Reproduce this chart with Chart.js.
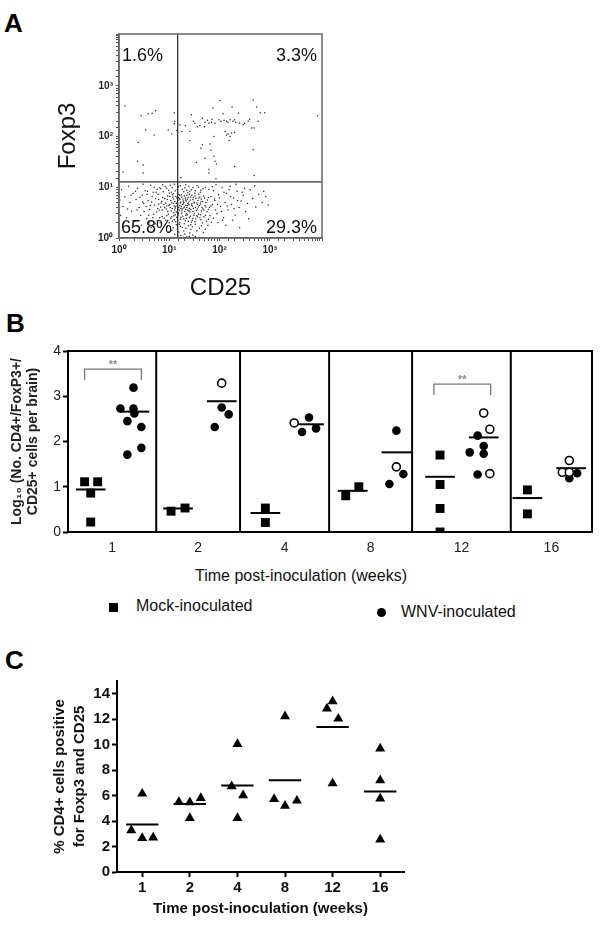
<!DOCTYPE html>
<html>
<head>
<meta charset="utf-8">
<script src="https://cdn.jsdelivr.net/npm/chart.js@4.4.1/dist/chart.umd.min.js"></script>
<style>
  body { margin: 0; background: #fff; font-family: "Liberation Sans", Arial, sans-serif; color: #000; }
  #page { position: relative; width: 600px; height: 938px; overflow: hidden; background: #fff; }
  canvas, .txt { position: absolute; }
  .letter { font-weight: bold; font-size: 26px; line-height: 26px; }
  .plain { font-size: 16px; line-height: 18px; color: #111; white-space: nowrap; }
  .sq { position: absolute; width: 9px; height: 9px; background: #000; }
  .dot { position: absolute; width: 9px; height: 9px; background: #000; border-radius: 50%; }
</style>
</head>
<body>
<div id="page">
  <div class="txt letter" style="left:4px;top:10px">A</div>
  <div class="txt letter" style="left:6px;top:310px">B</div>
  <div class="txt letter" style="left:5px;top:647px">C</div>

  <canvas id="chartA" width="340" height="310" style="left:0;top:0"></canvas>
  <canvas id="chartB" width="600" height="220" style="left:0;top:340px"></canvas>

  <div class="txt plain" style="left:151px;top:567px;width:300px;text-align:center">Time post-inoculation (weeks)</div>
  <div class="sq" style="left:109px;top:603px"></div>
  <div class="txt plain" style="left:136px;top:597px">Mock-inoculated</div>
  <div class="dot" style="left:377px;top:608px"></div>
  <div class="txt plain" style="left:401px;top:603px">WNV-inoculated</div>

  <canvas id="chartC" width="420" height="290" style="left:0;top:640px"></canvas>
</div>
<script>
// ---------- Panel A: flow plot, values are log10 of intensity [CD25, Foxp3] ----------
const gateCD25 = 14.7;
const gateFoxp3 = 12.8;
const quadrantPercents = ['1.6%', '3.3%', '65.8%', '29.3%']; // upper left, upper right, lower left, lower right
const dotsUpper = [
  [0.44,2.41],[0.58,2.45],[0.66,2.46],[0.73,2.51],[1.10,2.47],[0.53,2.13],[0.70,2.03],[0.98,2.13],[1.05,2.05],
  [0.38,1.88],[0.48,1.44],[0.37,1.51],[1.11,2.30],[1.10,2.25],[0.12,2.60],[0.08,1.30],[0.48,1.28],
  [1.21,2.23],[1.25,2.10],[1.32,2.21],[1.41,2.10],[1.44,2.43],[1.48,2.30],[1.51,2.26],[1.56,2.19],[1.61,2.21],
  [1.66,2.36],[1.70,2.19],[1.71,2.28],[1.76,2.32],[1.79,2.26],[1.84,2.28],[1.87,2.56],[1.85,2.34],[1.91,2.26],
  [1.99,2.33],[2.01,2.71],[2.03,2.30],[2.07,2.45],[2.09,2.32],[2.14,2.30],[2.17,2.28],[2.21,2.33],[2.25,2.58],
  [2.27,2.30],[2.30,2.33],[2.32,2.28],[2.38,2.46],[2.40,2.26],[2.47,2.23],[2.50,2.26],[2.57,2.30],[2.60,2.34],
  [2.64,2.17],[2.67,2.72],[2.69,2.17],[2.74,2.58],[2.77,2.30],[2.81,2.47],[2.90,2.47],[3.95,2.41],
  [1.89,2.00],[2.11,2.10],[2.14,2.03],[2.17,2.05],[2.21,2.00],[2.24,2.07],[2.30,2.08],[2.19,1.92],[1.66,1.84],
  [1.63,1.77],[1.81,1.85],[1.83,1.73],[1.71,1.57],[1.89,1.61],[1.91,1.51],[1.94,1.46],[1.54,1.49],[1.79,1.35],
  [1.79,1.28],[2.30,1.41],[2.67,1.74],[2.69,1.23],[1.41,1.92],[1.15,2.12],[1.23,1.19],[1.93,1.17]
];
const dotsLower = [
  [0.95,0.98],[1.02,1.04],[1.12,0.93],[1.18,1.01],[1.26,0.96],[1.33,1.05],[1.41,0.92],[1.47,0.99],[1.55,1.03],
  [1.63,0.94],[1.72,1.00],[0.88,0.91],[1.08,0.87],[1.37,0.89],[1.59,0.86],[1.21,0.84],
  [0.91,0.78],[0.97,0.83],[1.03,0.74],[1.07,0.81],[1.11,0.72],[1.15,0.79],[1.19,0.86],[1.23,0.71],[1.27,0.77],
  [1.30,0.83],[1.34,0.73],[1.38,0.80],[1.42,0.75],[1.45,0.84],[1.49,0.71],[1.53,0.78],[1.57,0.74],[1.61,0.81],
  [1.66,0.72],[1.70,0.79],[1.76,0.75],[1.83,0.82],[0.85,0.72],[1.00,0.88],[1.17,0.74],[1.29,0.70],[1.40,0.86],
  [1.51,0.88],[1.64,0.77],[1.13,0.82],[1.25,0.81],[1.36,0.77],
  [0.83,0.61],[0.89,0.66],[0.94,0.57],[0.99,0.64],[1.04,0.53],[1.08,0.68],[1.12,0.59],[1.16,0.65],[1.20,0.55],
  [1.24,0.62],[1.28,0.67],[1.31,0.52],[1.35,0.60],[1.39,0.66],[1.43,0.56],[1.46,0.63],[1.50,0.69],[1.54,0.54],
  [1.58,0.61],[1.62,0.67],[1.67,0.57],[1.71,0.64],[1.75,0.52],[1.80,0.60],[1.86,0.66],[1.92,0.55],[1.02,0.60],
  [1.14,0.51],[1.22,0.69],[1.33,0.64],[1.41,0.51],[1.48,0.58],[1.56,0.66],[1.64,0.53],[1.26,0.57],[1.37,0.55],
  [1.10,0.63],[1.19,0.60],[1.45,0.68],[1.30,0.61],
  [0.86,0.42],[0.93,0.35],[0.98,0.47],[1.03,0.39],[1.09,0.44],[1.13,0.32],[1.18,0.48],[1.22,0.37],[1.27,0.43],
  [1.32,0.34],[1.36,0.46],[1.40,0.40],[1.44,0.31],[1.49,0.45],[1.53,0.38],[1.58,0.47],[1.63,0.36],[1.69,0.42],
  [1.74,0.33],[1.81,0.44],[1.88,0.39],[1.15,0.41],[1.25,0.49],[1.34,0.39],[1.46,0.35],[1.56,0.42],[1.21,0.30],
  [1.06,0.33],
  [0.96,0.22],[1.05,0.15],[1.14,0.26],[1.19,0.12],[1.26,0.21],[1.31,0.08],[1.38,0.24],[1.43,0.17],[1.52,0.27],
  [1.60,0.19],[1.68,0.11],[1.77,0.25],[1.23,0.05],[1.35,0.02],[1.47,0.06],[1.11,0.07],
  [0.92,1.01],[0.99,0.94],[1.06,0.99],[1.10,1.06],[1.16,0.95],[1.22,1.03],[1.29,0.91],[1.31,0.99],[1.39,1.02],
  [1.44,0.95],[1.52,0.93],[1.58,1.00],[1.67,0.97],[1.79,0.96],[1.86,1.01],[0.81,0.99],[0.87,1.05],[1.04,0.90],
  [1.35,0.94],[1.62,0.90],
  [0.87,0.80],[0.93,0.69],[0.96,0.76],[1.01,0.82],[1.05,0.70],[1.09,0.77],[1.14,0.68],[1.18,0.80],[1.21,0.76],
  [1.24,0.85],[1.28,0.73],[1.32,0.79],[1.35,0.84],[1.39,0.71],[1.43,0.81],[1.47,0.76],[1.51,0.83],[1.55,0.69],
  [1.59,0.79],[1.63,0.71],[1.68,0.83],[1.73,0.70],[1.78,0.80],[1.90,0.77],[0.79,0.67],[1.06,0.85],[1.16,0.71],
  [1.26,0.66],[1.37,0.68],[1.48,0.80],[1.20,0.78],[1.33,0.75],
  [0.86,0.55],[0.91,0.60],[0.97,0.52],[1.01,0.66],[1.06,0.58],[1.09,0.50],[1.13,0.62],[1.17,0.56],[1.21,0.64],
  [1.25,0.53],[1.29,0.59],[1.33,0.56],[1.36,0.64],[1.40,0.58],[1.44,0.65],[1.47,0.52],[1.52,0.60],[1.56,0.57],
  [1.60,0.64],[1.65,0.60],[1.69,0.55],[1.73,0.61],[1.78,0.56],[1.83,0.63],[0.95,0.63],[1.18,0.50],[1.34,0.48],
  [1.50,0.49],[1.62,0.46],[1.23,0.58],[1.39,0.53],[1.11,0.55],
  [0.90,0.39],[0.95,0.44],[1.00,0.30],[1.05,0.42],[1.10,0.36],[1.17,0.44],[1.23,0.41],[1.29,0.38],[1.33,0.45],
  [1.38,0.33],[1.42,0.43],[1.47,0.39],[1.51,0.32],[1.55,0.44],[1.61,0.40],[1.66,0.30],[1.72,0.45],[1.78,0.37],
  [1.84,0.31],[1.20,0.27],[1.30,0.28],[1.43,0.26],[1.12,0.46],
  [0.99,0.12],[1.08,0.20],[1.16,0.17],[1.22,0.23],[1.29,0.14],[1.33,0.19],[1.41,0.10],[1.46,0.22],[1.55,0.14],
  [1.64,0.24],[1.72,0.17],[1.17,0.04],[1.40,0.03],[1.29,0.01],[1.52,0.03],
  [0.05,0.95],[0.08,0.62],[0.12,0.81],[0.15,0.40],[0.19,1.02],[0.22,0.70],[0.25,0.53],[0.28,0.88],[0.31,0.33],
  [0.34,0.76],[0.37,0.98],[0.40,0.60],[0.43,0.45],[0.46,0.84],[0.49,0.68],[0.52,0.93],[0.55,0.38],[0.58,0.74],
  [0.61,0.56],[0.63,1.04],[0.66,0.82],[0.69,0.47],[0.71,0.65],[0.74,0.90],[0.77,0.58],[0.79,0.76],[0.81,0.40],
  [0.83,0.97],[0.10,0.30],[0.27,0.20],[0.45,0.25],[0.60,0.30],[0.72,0.28],[0.36,0.55],[0.54,0.62],[0.65,0.71],
  [0.78,0.86],[0.70,1.00],[0.48,1.06],[0.17,0.57],[0.02,0.75],[0.03,0.45],[0.57,0.92],[0.75,0.51],[0.84,0.69],
  [0.42,0.80],[0.50,0.52],[0.56,0.86],[0.62,0.64],[0.67,0.40],[0.73,0.78],[0.76,0.96],[0.80,0.55],[0.68,0.90],
  [0.59,0.45],[0.47,0.71],[0.64,0.20],[0.82,0.30],[0.33,0.92],[0.24,0.84],[0.76,0.34],
  [1.88,0.93],[1.91,0.74],[1.95,0.48],[1.98,0.85],[2.02,0.62],[2.05,0.99],[2.08,0.40],[2.11,0.70],[2.14,0.88],
  [2.17,0.55],[2.21,1.02],[2.24,0.66],[2.28,0.79],[2.31,0.45],[2.35,0.92],[2.39,0.60],[2.43,0.73],[2.47,0.84],
  [2.52,0.52],[2.56,0.68],[2.61,0.95],[2.66,0.78],[2.72,0.61],[2.78,0.86],[2.85,0.70],[2.92,0.82],[2.97,0.65],
  [1.97,0.30],[2.13,0.25],[2.26,0.35],[2.40,0.20],[2.58,0.38],[1.93,1.05],[2.19,0.95],[2.33,1.06],[2.50,0.98],
  [2.70,1.03],[2.88,0.92],
  [1.96,0.66],[2.00,0.79],[2.04,0.52],[2.09,0.90],[2.15,0.63],[2.22,0.82],[2.29,0.58],[2.36,0.74],[2.45,0.90],
  [2.06,0.35]
];

// ---------- Panel B: log10 No. CD4+/FoxP3+/CD25+ cells per brain ----------
const bWeeks = ['1', '2', '4', '8', '12', '16'];
const mockValues = [[1.11,1.11,0.86,0.22],[0.46,0.53],[0.53,0.21],[0.80,1.00],[1.70,1.05,0.52,0.00],[0.93,0.40]];
const mockMeans = [0.94, 0.52, 0.42, 0.91, 1.22, 0.75];
const wnvValues = [
  [3.19,2.73,2.73,2.62,2.45,2.32,1.86,1.71],
  [3.29,2.75,2.60,2.32],
  [2.41,2.53,2.21,2.29],
  [2.24,1.44,1.28,1.06],
  [2.63,2.27,2.13,1.90,1.73,1.76,1.27,1.29],
  [1.58,1.32,1.32,1.30,1.19]
];
const wnvOpen = [[0,0,0,0,0,0,0,0],[1,0,0,0],[1,0,0,0],[0,1,0,0],[1,1,0,0,0,0,0,1],[1,1,1,0,0]];
const wnvMeans = [2.66, 2.89, 2.38, 1.76, 2.09, 1.41];
const sigWeeks = [0, 4];
const sigTops = [3.60, 3.27];
const bYTicks = [0, 1, 2, 3, 4];
// side-by-side spread of overlapping symbols (layout)
const mockJitter = [[-0.07,0.08,0,0],[-0.08,0.08],[0,0],[-0.08,0.07],[0,0,0,0],[0,0]];
const wnvJitter = [[-0.01,-0.16,-0.01,0,-0.08,0.08,0.08,-0.08],[0,0,0.08,-0.08],[-0.17,0,-0.08,0.08],
  [0,0,0.08,-0.08],[0,0.07,-0.07,0,0,-0.16,-0.07,0.07],[-0.02,-0.1,-0.02,0.07,-0.02]];
const bDividers = [1.01, 1.97, 2.99, 3.94, 5.07];

// ---------- Panel C: % CD4+ cells positive for Foxp3 and CD25 ----------
const cWeeks = ['1', '2', '4', '8', '12', '16'];
const cValues = [[3.27,6.15,2.67,2.70],[5.50,5.47,4.24,5.81],[6.73,10.05,6.02,4.24],[5.73,12.22,5.20,5.60],[12.83,13.40,12.04,6.96],[9.69,7.20,5.76,2.54]];
const cMeans = [3.74, 5.34, 6.80, 7.20, 11.39, 6.33];
const cYTicks = [0, 2, 4, 6, 8, 10, 12, 14];
const cJitter = [[-0.23,0,0,0.23],[-0.23,0,0,0.23],[-0.12,0,0.12,0],[-0.23,0,0,0.25],[-0.12,0,0.12,0],[0,0,0,0]];

const FONT = '"Liberation Sans", Arial, sans-serif';
Chart.defaults.font.family = FONT;
Chart.defaults.color = '#000';
Chart.defaults.animation = false;
Chart.defaults.plugins.legend.display = false;
Chart.defaults.plugins.tooltip.enabled = false;

// box round the plot area
const framePlugin = {
  id: 'frame',
  afterDatasetsDraw(chart, args, opts) {
    const {ctx, chartArea: a} = chart;
    ctx.save();
    ctx.strokeStyle = opts.color || '#000';
    ctx.lineWidth = opts.width || 1;
    ctx.strokeRect(a.left, a.top, a.right - a.left, a.bottom - a.top);
    ctx.restore();
  }
};

function segment(points, color, width) {
  return {data: points, showLine: true, borderColor: color, borderWidth: width, pointRadius: 0, fill: false};
}

// ----- chart A -----
const xMaxA = 10 ** 4.04, yMaxA = 10 ** 4.02;
const sup = ['\u2070', '\u00B9', '\u00B2', '\u00B3'];
function decadeLabel(v) {
  const e = Math.log10(v);
  const r = Math.round(e);
  return (Math.abs(e - r) < 1e-6 && r >= 0 && r <= 3) ? '10' + sup[r] : '';
}
const toPoint = ([a, b]) => ({x: 10 ** a, y: 10 ** b});

const quadrantPlugin = {
  id: 'quadrants',
  afterDatasetsDraw(chart) {
    const {ctx, chartArea: a} = chart;
    ctx.save();
    ctx.fillStyle = '#111';
    ctx.font = '18px ' + FONT;
    ctx.textBaseline = 'alphabetic';
    ctx.textAlign = 'left';
    ctx.fillText(quadrantPercents[0], a.left + 3, a.top + 27);
    ctx.fillText(quadrantPercents[2], a.left + 2, a.bottom - 5);
    ctx.textAlign = 'right';
    ctx.fillText(quadrantPercents[1], a.right - 5, a.top + 27);
    ctx.fillText(quadrantPercents[3], a.right - 5, a.bottom - 5);
    ctx.restore();
  }
};

const logAxis = (title, pad, sizeFix) => ({
  type: 'logarithmic',
  min: 1,
  ticks: {autoSkip: false, maxRotation: 0, padding: 3, font: {size: 10, weight: 'bold'}, color: '#222', callback: decadeLabel},
  grid: {drawOnChartArea: false, drawTicks: true, tickLength: 3, color: '#555', tickWidth: 1},
  border: {display: true, color: '#666', width: 1.5},
  title: {display: true, text: title, font: {size: 24}, color: '#111', padding: pad},
  afterFit: sizeFix
});

new Chart(document.getElementById('chartA'), {
  type: 'scatter',
  data: {
    datasets: [
      {data: dotsUpper.concat(dotsLower).map(toPoint), pointRadius: 0.75, backgroundColor: '#2a2a2a', borderWidth: 0},
      segment([{x: gateCD25, y: 1}, {x: gateCD25, y: yMaxA}], '#333', 1.3),
      segment([{x: 1, y: gateFoxp3}, {x: xMaxA, y: gateFoxp3}], '#333', 1.3)
    ]
  },
  options: {
    responsive: false,
    devicePixelRatio: 1,
    layout: {padding: {top: 34, right: 18, left: 0, bottom: 0}},
    scales: {
      x: Object.assign(logAxis('CD25', {bottom: 7}, s => { s.height = 72; }), {max: xMaxA}),
      y: Object.assign(logAxis('Foxp3', {top: 54}, s => { s.width = 119; }), {max: yMaxA})
    },
    plugins: {frame: {color: '#666', width: 1.5}}
  },
  plugins: [framePlugin, quadrantPlugin]
});

// ----- chart B -----
const mockCol = 0.26, wnvCol = 0.76, bHalf = 0.17;
const bBounds = [0].concat(bDividers, [6]);
const bCenters = bWeeks.map((w, g) => (bBounds[g] + bBounds[g + 1]) / 2);
const mockPts = [], wnvFilledPts = [], wnvOpenPts = [];
bWeeks.forEach((w, g) => {
  mockValues[g].forEach((v, i) => mockPts.push({x: g + mockCol + mockJitter[g][i], y: v}));
  wnvValues[g].forEach((v, i) => {
    (wnvOpen[g][i] ? wnvOpenPts : wnvFilledPts).push({x: g + wnvCol + wnvJitter[g][i], y: v});
  });
});
const bLines = [];
bWeeks.forEach((w, g) => {
  bLines.push(segment([{x: g + mockCol - bHalf, y: mockMeans[g]}, {x: g + mockCol + bHalf, y: mockMeans[g]}], '#000', 2));
  bLines.push(segment([{x: g + wnvCol - bHalf, y: wnvMeans[g]}, {x: g + wnvCol + bHalf, y: wnvMeans[g]}], '#000', 2));
});
const sigSpans = sigWeeks.map(g => [g + mockCol - 0.07, g + wnvCol + 0.08]);
sigWeeks.forEach((g, k) => {
  const [a, b] = sigSpans[k], top = sigTops[k];
  bLines.push(segment([{x: a, y: top - 0.24}, {x: a, y: top}, {x: b, y: top}, {x: b, y: top - 0.24}], '#777', 1.3));
});
bDividers.forEach(d => bLines.push(segment([{x: d, y: 0}, {x: d, y: 4}], '#000', 2)));

const starsPlugin = {
  id: 'stars',
  afterDatasetsDraw(chart) {
    const {ctx, scales: {x, y}} = chart;
    ctx.save();
    ctx.fillStyle = '#888';
    ctx.font = 'bold 11px ' + FONT;
    ctx.textAlign = 'center';
    ctx.textBaseline = 'bottom';
    sigSpans.forEach(([a, b], k) => {
      ctx.fillText('**', x.getPixelForValue((a + b) / 2), y.getPixelForValue(sigTops[k]) + 1);
    });
    ctx.restore();
  }
};

new Chart(document.getElementById('chartB'), {
  type: 'scatter',
  data: {
    datasets: [
      {data: wnvOpenPts, pointStyle: 'circle', pointRadius: 4, backgroundColor: '#fff', borderColor: '#000', borderWidth: 1.6},
      {data: wnvFilledPts, pointStyle: 'circle', pointRadius: 4.3, backgroundColor: '#000', borderColor: '#000', borderWidth: 0},
      {data: mockPts, pointStyle: 'rect', pointRadius: 6.3, backgroundColor: '#000', borderColor: '#000', borderWidth: 0}
    ].concat(bLines)
  },
  options: {
    responsive: false,
    devicePixelRatio: 1,
    layout: {padding: {top: 11, right: 8, left: 0, bottom: 0}},
    scales: {
      x: {
        type: 'linear', min: 0, max: 6,
        afterBuildTicks: s => { s.ticks = bCenters.map(v => ({value: v})); },
        ticks: {autoSkip: false, maxRotation: 0, padding: 8, font: {size: 14}, color: '#222',
          callback: (v, i) => bWeeks[i]},
        grid: {display: false, drawTicks: false},
        border: {display: false},
        afterFit: s => { s.height = 28; }
      },
      y: {
        min: 0, max: 4,
        afterBuildTicks: s => { s.ticks = bYTicks.map(v => ({value: v})); },
        ticks: {padding: 2, font: {size: 14}, color: '#222'},
        grid: {drawOnChartArea: false, tickLength: 5, tickWidth: 2, color: '#000'},
        border: {display: false},
        title: {display: true, text: ['Log\u2081\u2080 (No. CD4+/FoxP3+/', 'CD25+ cells per brain)'],
          font: {size: 14, weight: 'bold', lineHeight: 1.15}, color: '#222', padding: {top: 9}},
        afterFit: s => { s.width = 68; }
      }
    },
    plugins: {frame: {color: '#000', width: 2}}
  },
  plugins: [framePlugin, starsPlugin]
});

// ----- chart C -----
const cPts = [];
cWeeks.forEach((w, g) => cValues[g].forEach((v, i) => cPts.push({x: g + cJitter[g][i], y: v})));
const cLines = cWeeks.map((w, g) => segment([{x: g - 0.34, y: cMeans[g]}, {x: g + 0.34, y: cMeans[g]}], '#000', 2));

new Chart(document.getElementById('chartC'), {
  type: 'scatter',
  data: {
    datasets: [
      {data: cPts, pointStyle: 'triangle', pointRadius: 5.8, backgroundColor: '#000', borderColor: '#000', borderWidth: 0}
    ].concat(cLines)
  },
  options: {
    responsive: false,
    devicePixelRatio: 1,
    layout: {padding: {top: 41, right: 16, left: 0, bottom: 0}},
    scales: {
      x: {
        type: 'linear', min: -0.53, max: 5.5,
        afterBuildTicks: s => { s.ticks = cWeeks.map((w, i) => ({value: i})); },
        ticks: {autoSkip: false, maxRotation: 0, padding: 2, font: {size: 15, weight: 'bold'}, color: '#111',
          callback: (v, i) => cWeeks[i]},
        grid: {drawOnChartArea: false, tickLength: 5, tickWidth: 2, color: '#000'},
        border: {color: '#000', width: 2},
        title: {display: true, text: 'Time post-inoculation (weeks)', font: {size: 15, weight: 'bold'}, color: '#111', padding: {bottom: 12}},
        afterFit: s => { s.height = 58; }
      },
      y: {
        min: 0, max: 15,
        afterBuildTicks: s => { s.ticks = cYTicks.map(v => ({value: v})); },
        ticks: {padding: 2, font: {size: 15, weight: 'bold'}, color: '#111'},
        grid: {drawOnChartArea: false, tickLength: 5, tickWidth: 2, color: '#000'},
        border: {color: '#000', width: 2},
        title: {display: true, text: ['% CD4+ cells positive', 'for Foxp3 and CD25'],
          font: {size: 15, weight: 'bold', lineHeight: 1.33}, color: '#111', padding: {top: 50}},
        afterFit: s => { s.width = 117; }
      }
    }
  }
});
</script>
</body>
</html>
